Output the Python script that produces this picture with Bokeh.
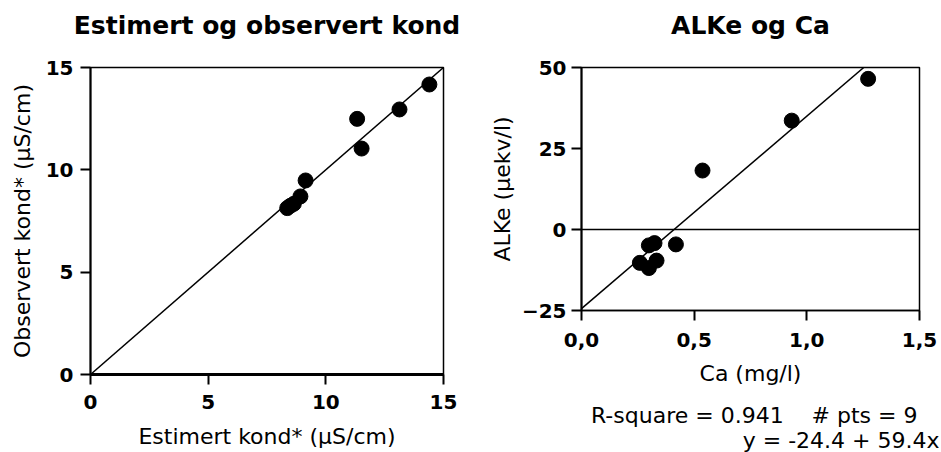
from bokeh.plotting import figure
from bokeh.layouts import row, column
from bokeh.models import Range1d, FixedTicker, Span, Title
from bokeh.embed import file_html
from bokeh.resources import INLINE

# ---------------- data ----------------
est_kond = [14.4, 13.13, 11.33, 11.52, 9.14, 8.92, 8.64, 8.36, 8.5]
obs_kond = [14.17, 12.95, 12.49, 11.04, 9.48, 8.70, 8.34, 8.13, 8.25]
left_ticks = [0, 5, 10, 15]

ca = [1.272, 0.933, 0.537, 0.419, 0.299, 0.324, 0.259, 0.299, 0.333]
alke = [46.5, 33.6, 18.2, -4.6, -4.9, -4.2, -10.3, -11.9, -9.6]
right_xticks = [0.0, 0.5, 1.0, 1.5]
right_xlabels = ["0,0", "0,5", "1,0", "1,5"]
right_yticks = [-25, 0, 25, 50]
intercept = -24.4
slope = 59.4
r_square = 0.941
n_pts = 9

FONT = "DejaVu Sans"
TICK_SIZE = "20px"
LABEL_SIZE = "22px"
TITLE_SIZE = "25px"
NB = "\u00a0"


def style(p, title, xlabel, ylabel):
    p.grid.visible = False
    p.outline_line_color = "black"
    p.outline_line_width = 1.5
    # a blank second line lifts the title towards the top of the canvas
    p.title.text = title + "\n" + NB
    p.title.text_font = FONT
    p.title.text_font_size = TITLE_SIZE
    p.title.text_font_style = "bold"
    p.title.align = "center"
    p.title.text_color = "black"
    p.title.standoff = -3
    for ax, lab in ((p.xaxis[0], xlabel), (p.yaxis[0], ylabel)):
        ax.axis_label = lab
        ax.axis_label_text_font = FONT
        ax.axis_label_text_font_size = LABEL_SIZE
        ax.axis_label_text_font_style = "normal"
        ax.axis_label_text_color = "black"
        ax.axis_line_color = "black"
        ax.axis_line_width = 2
        ax.major_tick_line_color = "black"
        ax.major_tick_line_width = 2
        ax.major_tick_in = 0
        ax.major_tick_out = 10
        ax.minor_tick_line_color = None
        ax.major_label_text_font = FONT
        ax.major_label_text_font_style = "bold"
        ax.major_label_text_font_size = TICK_SIZE
        ax.major_label_text_color = "black"


# ---------------- left figure ----------------
p1 = figure(width=480, height=452, output_backend="svg", toolbar_location=None,
            x_range=Range1d(0, 15), y_range=Range1d(0, 15),
            min_border_left=90, min_border_right=37, min_border_top=67, min_border_bottom=78)
style(p1, "Estimert og observert kond", "Estimert kond* (µS/cm)", "Observert kond* (µS/cm)")
p1.xaxis[0].ticker = FixedTicker(ticks=left_ticks)
p1.yaxis[0].ticker = FixedTicker(ticks=left_ticks)
p1.xaxis[0].axis_line_width = 3
p1.xaxis[0].major_label_standoff = 10
p1.xaxis[0].axis_label_standoff = 12
p1.yaxis[0].major_label_standoff = 7
p1.yaxis[0].axis_label_standoff = 8

p1.line(left_ticks[::3], left_ticks[::3], line_color="black", line_width=1.5)
p1.scatter(est_kond, obs_kond, size=15, fill_color="black", line_color="black")

# ---------------- right figure ----------------
p2 = figure(width=461, height=452, output_backend="svg", toolbar_location=None,
            x_range=Range1d(0, 1.5), y_range=Range1d(-25, 50),
            min_border_left=101, min_border_right=22, min_border_top=67, min_border_bottom=142)
style(p2, "ALKe og Ca", "Ca (mg/l)", "ALKe (µekv/l)")
p2.xaxis[0].ticker = FixedTicker(ticks=right_xticks)
p2.xaxis[0].major_label_overrides = {t: s for t, s in zip(right_xticks, right_xlabels)}
p2.yaxis[0].ticker = FixedTicker(ticks=right_yticks)
p2.xaxis[0].major_label_standoff = 12
p2.xaxis[0].axis_label_standoff = 11
p2.yaxis[0].major_label_standoff = 5
p2.yaxis[0].axis_label_standoff = 4
p2.xaxis[0].axis_line_width = 1.5

for txt, off, st in ((f"R-square = {r_square}{NB * 4}# pts = {n_pts}", 2, 24),
                     (f"y = {intercept} + {slope}x", -20, -27)):
    p2.add_layout(Title(text=txt, align="right", offset=off, text_font=FONT,
                        text_font_size=LABEL_SIZE, text_font_style="normal",
                        text_color="black", standoff=st), "below")

p2.add_layout(Span(location=0, dimension="width", line_color="black", line_width=1.5))
x_end = (right_yticks[-1] - intercept) / slope
p2.line([0, x_end], [intercept, intercept + slope * x_end], line_color="black", line_width=1.5)
p2.scatter(ca, alke, size=15, fill_color="black", line_color="black")

layout = row(column(p1), column(p2))
open("out.html", "w").write(file_html(layout, INLINE))
